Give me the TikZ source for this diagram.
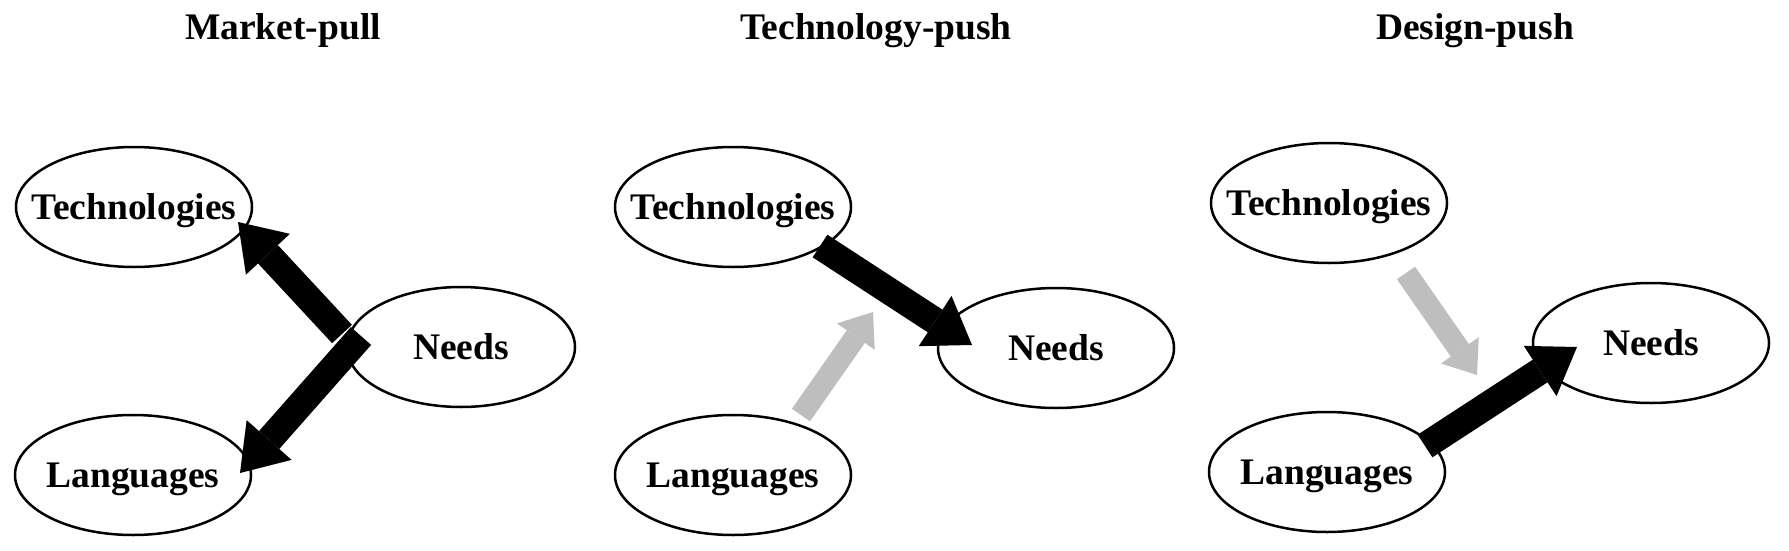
\documentclass[tikz,border=0pt]{standalone}
\usepackage{fontspec}
\setmainfont{Liberation Serif}
\usetikzlibrary{arrows.meta,shapes.geometric,calc}
\definecolor{arrowgrey}{RGB}{190,190,190}
\begin{document}
\begin{tikzpicture}[x=1pt,y=-1pt,
  txt/.style={font=\fontsize{37.5}{45}\selectfont\bfseries},
  lbl/.style={txt,inner sep=0pt,text height=24.8pt,text depth=0pt},
  oval/.style={ellipse,draw,line width=2.5pt,minimum width=236pt,minimum height=120pt,inner sep=0pt,label={[lbl]center:#1}},
  headline/.style={txt,anchor=base,inner sep=0pt},
  bigarrow/.style={draw=black,line width=27pt,-{Triangle[length=44pt,width=60pt,line width=0pt]}},
  greyarrow/.style={draw=arrowgrey,line width=22pt,-{Triangle[length=30pt,width=46pt,line width=0pt]}}]
\useasboundingbox (0,0) rectangle (1789,551);
\fill[white] (0,0) rectangle (1789,551);
% titles
\node[headline] (h1) at (283,40) {Market-pull};
\node[headline] (h2) at (876,40) {Technology-push};
\node[headline] (h3) at (1475,40) {Design-push};
% panel 1
\node[oval=Technologies] (T1) at (134,207) {};
\node[oval=Needs,minimum width=228pt] (N1) at (461,347) {};
\node[oval=Languages] (L1) at (133,475) {};
% panel 2
\node[oval=Technologies] (T2) at (733,207) {};
\node[oval=Needs] (N2) at (1056,348) {};
\node[oval=Languages] (L2) at (733,475) {};
% panel 3
\node[oval=Technologies] (T3) at (1329,203) {};
\node[oval=Needs] (N3) at (1651,343) {};
\node[oval=Languages] (L3) at (1327,472) {};
\coordinate (g2) at (873,312);
\coordinate (g3) at (1477,375);
% arrows panel 1
\draw[bigarrow] ($(N1.center)+(-119,-13)$) -- ($(T1.center)+(104,15)$);
\draw[bigarrow] ($(N1.center)+(-100,-11)$) -- ($(L1.center)+(107,-2)$);
% arrows panel 2
\draw[greyarrow] ($(L2.center)+(68,-60)$) -- (g2);
\draw[bigarrow] ($(T2.center)+(87,39)$) -- ($(N2.center)+(-84,-3)$);
% arrows panel 3
\draw[greyarrow] ($(T3.center)+(77,70)$) -- (g3);
\draw[bigarrow] ($(L3.center)+(98,-26)$) -- ($(N3.center)+(-74,4)$);
\end{tikzpicture}
\end{document}
